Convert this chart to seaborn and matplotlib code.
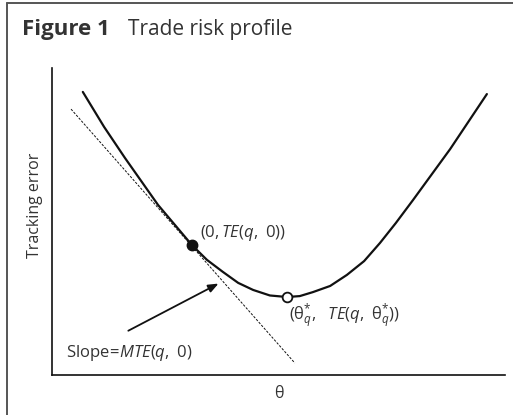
import numpy as np
import pandas as pd
import seaborn as sns
from matplotlib import pyplot as plt
from matplotlib.lines import Line2D

# curve (axis units 0..100)
theta = [6.8, 11.5, 16.1, 23.4, 30.9, 34.2, 37.7, 41.1, 44.4, 48.1, 51.9,
         54.7, 57.6, 61.4, 65.1, 68.9, 72.4, 75.9, 79.7, 87.9, 96.0]
track_err = [92.2, 80.8, 70.7, 55.4, 42.3, 37.5, 33.6, 30.0, 27.7, 25.9, 25.4,
             25.7, 27.0, 29.0, 32.6, 37.1, 43.0, 49.5, 57.0, 73.6, 91.5]

# tangent line at theta = 0
tangent_x = [4.2, 53.6]
tangent_y = [86.6, 3.9]

# the two marked points
point_x = [30.9, 51.9]
point_y = [42.3, 25.4]

curve = pd.DataFrame({"theta": theta, "te": track_err})

sns.set_theme(style="white")
plt.rcParams['font.family'] = ['Open Sans', 'DejaVu Sans']
plt.rcParams['mathtext.fontset'] = 'custom'
plt.rcParams['mathtext.rm'] = 'Open Sans'
plt.rcParams['mathtext.it'] = 'Open Sans:italic'

fig = plt.figure(figsize=(5.13, 4.15), dpi=100)
ax = fig.add_axes([0.1014, 0.0964, 0.883, 0.7398])

sns.lineplot(data=curve, x="theta", y="te", ax=ax, color="#111111", linewidth=1.6, sort=False,
             solid_joinstyle="round")
ax.plot(tangent_x, tangent_y, color="#111111", linewidth=0.7, linestyle=(0, (2.5, 1.5)))
ax.plot(point_x[0], point_y[0], marker="o", markersize=7.5, color="#111111", zorder=5)
ax.plot(point_x[1], point_y[1], marker="o", markersize=7, markerfacecolor="white",
        markeredgecolor="#111111", markeredgewidth=1.3, zorder=5)

ax.annotate("", xy=(37.3, 30.2), xytext=(16.3, 14.0),
            arrowprops=dict(arrowstyle="-|>,head_length=0.5,head_width=0.2", color="#111111", lw=1.3))

txt_color = "#333333"
ax.text(32.7, 45.0, r"$(0,\mathit{TE}(q,\ 0))$", fontsize=12, color=txt_color, va="baseline", ha="left")
ax.text(52.3, 17.8, r"$(\mathrm{\theta}^{*}_{q},\ \ \mathit{TE}(q,\ \mathrm{\theta}^{*}_{q}))$", fontsize=12,
        color=txt_color, va="baseline", ha="left")
ax.text(3.1, 5.9, r"Slope$\!=\!\mathit{MTE}(q,\ 0)$", fontsize=12, color=txt_color, va="baseline", ha="left")

ax.set_xlim(0, 100)
ax.set_ylim(0, 100)
ax.set_xticks([])
ax.set_yticks([])
ax.set_xlabel("")
ax.set_ylabel("")
ax.text(0.501, -0.075, "θ", transform=ax.transAxes, fontsize=11.5, color=txt_color, ha="center", va="baseline")
ax.text(-0.038, 0.554, "Tracking error", transform=ax.transAxes, rotation=90, fontsize=11.5,
        color=txt_color, ha="center", va="center")

sns.despine(ax=ax)
for side in ["left", "bottom"]:
    ax.spines[side].set_color("#111111")
    ax.spines[side].set_linewidth(1.2)

# outer frame (left and top edge)
fig.add_artist(Line2D([7 / 513, 7 / 513], [0, 1 - 3 / 415], color="#555555", linewidth=1.4))
fig.add_artist(Line2D([7 / 513, 1], [1 - 3 / 415, 1 - 3 / 415], color="#555555", linewidth=1.4))

fig.text(22 / 513, 1 - 35 / 415, "Figure 1", fontsize=16, fontweight="bold", color="#333333", va="baseline")
fig.text(128 / 513, 1 - 35 / 415, "Trade risk profile", fontsize=15, color="#333333", va="baseline")

fig.savefig("out.png", dpi=100)
